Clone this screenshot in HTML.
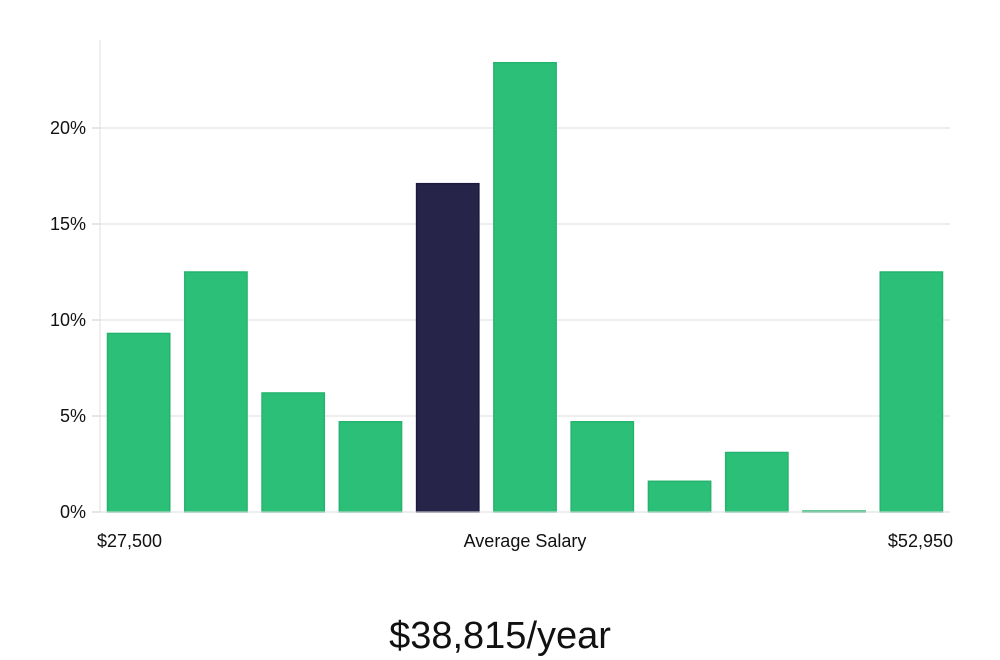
<!DOCTYPE html>
<html><head><meta charset="utf-8"><style>
html,body{margin:0;padding:0;background:#fff;}
svg{display:block;font-family:"Liberation Sans","DejaVu Sans",sans-serif;}
</style></head><body>
<svg id="chart" width="1000" height="660" viewBox="0 0 1000 660">
<g id="grid"></g><g id="bars"></g><g id="yticks"></g>
<line x1="100" y1="40" x2="100" y2="512" stroke="#dcdcdc" stroke-width="1"/>
<line x1="100" y1="512" x2="950" y2="512" stroke="#dcdcdc" stroke-width="1"/>
<text x="97" y="547" font-size="18" fill="#111">$27,500</text>
<text x="525" y="547" font-size="18" fill="#111" text-anchor="middle">Average Salary</text>
<text x="953" y="547" font-size="18" fill="#111" text-anchor="end">$52,950</text>
<text x="500" y="648" font-size="38" fill="#111" text-anchor="middle" font-weight="300">$38,815/year</text>
</svg>
<script>
const values=[9.3,12.5,6.2,4.7,17.1,23.4,4.7,1.6,3.1,0.05,12.5];
const highlight=[false,false,false,false,true,false,false,false,false,false,false];
const ticks=[0,5,10,15,20];
const tickLabels=["0%","5%","10%","15%","20%"];
const NS="http://www.w3.org/2000/svg";
const x0=100,x1=950,yBase=512,pxPerPct=19.2;
const y=v=>yBase-v*pxPerPct;
const slot=(x1-x0)/values.length;
const grid=document.getElementById('grid'),yt=document.getElementById('yticks'),bars=document.getElementById('bars');
ticks.forEach((t,i)=>{
 if(t>0){const l=document.createElementNS(NS,'line');
 
 
 l.setAttribute('x1',x0);l.setAttribute('x2',x1);l.setAttribute('y1',y(t));l.setAttribute('y2',y(t));
 l.setAttribute('stroke','#dcdcdc');grid.appendChild(l);}
 const tk=document.createElementNS(NS,'line');
 
 
 tk.setAttribute('x1',x0-8);tk.setAttribute('x2',x0);tk.setAttribute('y1',y(t));tk.setAttribute('y2',y(t));
 tk.setAttribute('stroke','#ccc');yt.appendChild(tk);
 const tx=document.createElementNS(NS,'text');
 
 
 tx.setAttribute('x',x0-14);tx.setAttribute('y',y(t)+6);tx.setAttribute('text-anchor','end');
 tx.setAttribute('font-size','18');tx.setAttribute('fill','#111');tx.textContent=tickLabels[i];yt.appendChild(tx);
});
values.forEach((v,i)=>{
 const r=document.createElementNS(NS,'rect');
 
 
 const bx=x0+i*slot+7.5;
 r.setAttribute('x',bx);r.setAttribute('width',slot-15);
 r.setAttribute('y',y(v));r.setAttribute('height',Math.max(yBase-y(v),1));
 r.setAttribute('fill',highlight[i]?'#27244a':'#2bbf78');
 r.setAttribute('stroke',highlight[i]?'#1d1a40':'#25b46f');r.setAttribute('stroke-width','1.5');
 bars.appendChild(r);
});
</script>
</body></html>
